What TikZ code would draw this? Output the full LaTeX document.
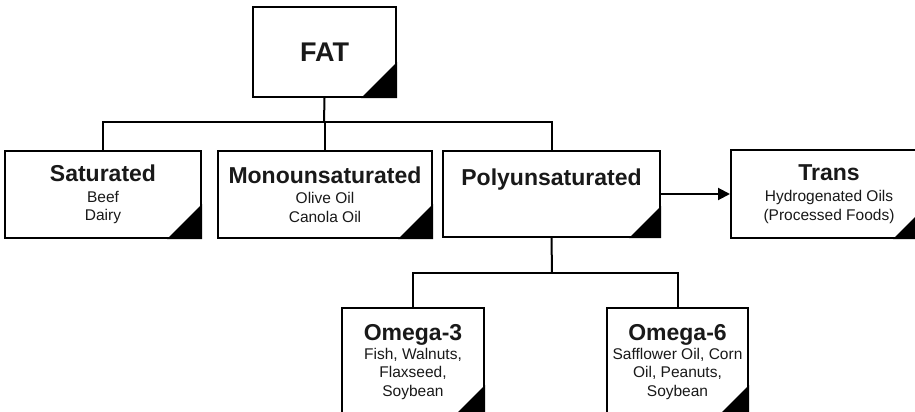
\documentclass[tikz,border=0pt]{standalone}
\usepackage{fontspec}
\setmainfont{Liberation Sans}
\usetikzlibrary{arrows.meta}

\newcommand{\subfont}{\fontsize{15.5}{18.5}\selectfont}
\newcommand{\headfont}{\fontsize{23}{23}\selectfont\bfseries}
\newcommand{\topfont}{\fontsize{27}{27}\selectfont\bfseries}
% black corner in the lower right of a box
\newcommand{\corner}[2]{\fill (#1.south east) -- ([xshift=-#2pt]#1.south east) -- ([yshift=#2pt]#1.south east) -- cycle;}

\begin{document}
\begin{tikzpicture}[x=1pt, y=-1pt,
        box/.style={draw, line width=2pt, align=center, inner sep=0pt, font=\subfont, text=black!90},
        link/.style={line width=2pt},
        linkarrow/.style={line width=2pt, -{Triangle[length=12pt, width=12pt]}}]
    \useasboundingbox[fill=white] (0,0) rectangle (915,412);

    \node[box, minimum width=143, minimum height=90] (fat) at (324.5,52) {\topfont FAT};

    \node[box, minimum width=196, minimum height=87] (sat) at (103,194.5) {{\headfont Saturated}\\[2pt]Beef\\Dairy};
    \node[box, minimum width=214, minimum height=87] (mono) at (325,194.5) {{\headfont Monounsaturated}\\[2pt]Olive Oil\\Canola Oil};
    \node[box, minimum width=217, minimum height=86, text depth=33pt] (poly) at (551.5,194) {\headfont Polyunsaturated};
    \node[box, minimum width=196, minimum height=88] (trans) at (829,194) {{\headfont Trans}\\[3pt]Hydrogenated Oils\\(Processed Foods)};

    \node[box, minimum width=142, minimum height=108] (om3) at (413,362) {{\headfont Omega-3}\\Fish, Walnuts,\\Flaxseed,\\Soybean};
    \node[box, minimum width=141, minimum height=108] (om6) at (677.5,362) {{\headfont Omega-6}\\Safflower Oil, Corn\\Oil, Peanuts,\\Soybean};

    \corner{fat}{36}
    \corner{sat}{35}
    \corner{mono}{35}
    \corner{poly}{32}
    \corner{trans}{35}
    \corner{om3}{32}
    \corner{om6}{32}

    % connectors
    \coordinate (bus1) at (324,122);
    \coordinate (bus2) at (552,273);
    \draw[link] (fat.south) -- (bus1);
    \draw[link] (sat.north) |- (bus1) -| (poly.north);
    \draw[link] (mono.north) -- (mono.north |- bus1);
    \draw[link] (poly.south) -- (bus2);
    \draw[link] (om3.north) |- (bus2) -| (om6.north);
    \draw[linkarrow] (poly.east) -- (trans.west);
\end{tikzpicture}
\end{document}
